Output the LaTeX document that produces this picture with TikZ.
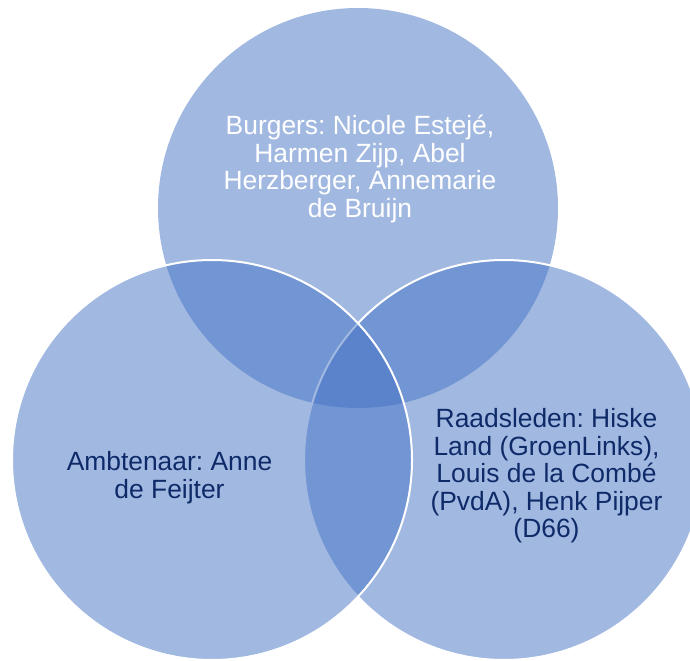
\documentclass[tikz,border=0pt]{standalone}
\usepackage{fontspec}
\setmainfont{Liberation Sans}
\frenchspacing
\definecolor{vennblue}{HTML}{4472C4}
\definecolor{navytext}{RGB}{14,42,104}
\tikzset{
  venn/.style={fill=vennblue, fill opacity=0.5, line width=2bp},
  label/.style={align=center, inner sep=0pt, font={\fontsize{26.5}{27.6}\selectfont\frenchspacing}},
}
\begin{document}
\begin{tikzpicture}[x=1bp, y=-1bp]
  \useasboundingbox (0,0) rectangle (690,661);
  \clip (0,0) rectangle (690,661);
  \fill[venn] (358,208) circle[radius=200];
  \filldraw[venn, draw=white] (504,460) circle[radius=200];
  \filldraw[venn, draw=white] (212,460) circle[radius=200];
  \node[label, text=white] (burgers) at (360,170.4)
    {\strut Burgers: Nicole Estejé,\\Harmen Zijp, Abel\\Herzberger, Annemarie\\de Bruijn\strut};
  \node[label, text=navytext] (ambtenaar) at (169.5,479)
    {\strut Ambtenaar: Anne\\de Feijter\strut};
  \node[label, text=navytext] (raad) at (546.5,477)
    {\strut Raadsleden: Hiske\\Land (GroenLinks),\\Louis de la Combé\\(PvdA), Henk Pijper\\(D66)\strut};
\end{tikzpicture}
\end{document}
